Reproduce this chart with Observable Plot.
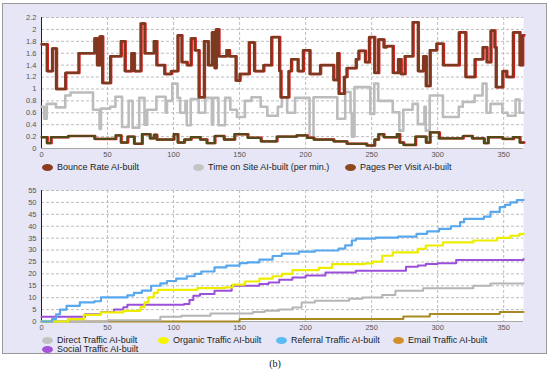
<!DOCTYPE html>
<html><head><meta charset="utf-8">
<script src="https://cdn.jsdelivr.net/npm/d3@7"></script>
<script src="https://cdn.jsdelivr.net/npm/@observablehq/plot@0.6"></script>
<style>
html,body{margin:0;padding:0;background:#fff;}
#root{position:relative;width:550px;height:371px;overflow:hidden;font-family:"Liberation Sans",Arial,sans-serif;}
#box{position:absolute;left:2px;top:3px;width:545px;height:351px;background:#e6e6f6;border:1px solid #9a9a9a;box-sizing:border-box;}
.plot{position:absolute;left:0;}
.leg{position:absolute;font-size:9px;line-height:12px;color:#222;white-space:nowrap;display:flex;align-items:center;}
.leg i{display:inline-block;width:11px;height:7px;border-radius:50%;margin-right:4px;}
#cap{position:absolute;left:0;width:550px;top:358px;text-align:center;font-family:"Liberation Serif","Times New Roman",serif;font-size:10px;color:#111;}
</style>
</head><body>
<div id="root"><div id="box"></div><div id="cap">(b)</div></div>
<script>
// ---------- Data ----------
const xTicks = [0, 50, 100, 150, 200, 250, 300, 350];
const topYTicks = [0, 0.2, 0.4, 0.6, 0.8, 1, 1.2, 1.4, 1.6, 1.8, 2, 2.2];
const botYTicks = [0, 5, 10, 15, 20, 25, 30, 35, 40, 45, 50, 55];

const topSeriesNames = ["Bounce Rate AI-built", "Time on Site AI-built (per min.)", "Pages Per Visit AI-built"];
const botSeriesNames = ["Direct Traffic AI-built", "Organic Traffic AI-built", "Referral Traffic AI-built", "Email Traffic AI-built", "Social Traffic AI-built"];

// Pages Per Visit (change points: day, value)
const ppvDays = [0,4,8,11,18,28,40,42,44,46,52,60,63,68,70,75,78,85,87,93,98,103,106,110,113,116,119,123,126,129,131,132,134,140,142,147,150,157,161,168,174,180,181,187,189,194,198,203,211,221,224,225,229,231,238,240,245,248,252,255,259,261,266,270,272,275,281,285,289,291,294,299,304,316,321,328,334,337,340,343,344,349,352,357,362,364,365];
const ppvVals = [1.75,1.3,1.68,1.0,1.27,1.6,1.85,1.4,1.88,1.1,1.55,1.8,1.3,1.6,1.3,2.1,1.6,1.8,1.4,1.25,1.3,1.9,1.45,1.4,1.85,1.65,0.86,1.8,1.4,1.95,1.35,2.0,1.55,1.65,1.55,1.14,1.25,1.78,1.3,1.4,1.87,1.3,0.86,1.3,1.5,1.3,1.65,1.25,1.4,1.15,1.6,0.92,1.2,1.35,1.5,1.64,1.45,1.87,1.27,1.83,1.7,1.72,1.27,1.5,1.25,1.55,2.12,1.3,1.55,1.05,1.65,1.76,1.4,1.95,1.2,1.5,1.7,1.45,1.98,1.7,1.03,1.3,1.2,1.95,1.4,1.9,1.9];

// Time on Site
const tosDays = [0,2,4,11,18,22,39,44,45,52,56,61,66,69,74,78,80,87,94,95,99,103,105,109,110,113,119,124,129,130,134,139,143,148,154,159,166,171,179,182,186,192,203,206,224,230,234,235,237,249,252,255,266,271,274,281,285,290,291,294,304,316,319,328,334,337,340,349,353,359,362,365];
const tosVals = [0.7,0.5,0.75,0.69,0.89,0.94,0.65,0.33,0.67,0.7,0.87,0.36,0.8,0.35,0.85,0.4,0.65,0.87,0.6,0.8,1.09,0.85,0.6,0.8,0.39,0.83,0.6,0.85,0.4,0.85,0.39,0.85,0.65,0.53,0.8,0.86,0.7,0.55,0.7,0.86,0.6,0.85,0.19,0.86,0.5,0.95,0.6,0.2,1.03,0.58,1.09,0.8,0.61,0.3,0.65,0.75,0.41,0.7,0.3,0.89,0.53,0.7,0.78,0.89,1.09,0.6,0.75,0.6,0.55,0.82,0.6,0.6];

// Bounce Rate
const brDays = [0,4,7,20,40,56,60,65,70,76,82,85,87,100,103,108,113,120,125,131,138,146,156,166,178,193,201,206,221,231,246,252,255,259,269,271,274,283,291,294,301,319,326,335,338,349,357,362,365];
const brVals = [0.19,0.09,0.19,0.21,0.16,0.22,0.1,0.2,0.08,0.24,0.17,0.23,0.15,0.24,0.1,0.15,0.19,0.15,0.09,0.21,0.15,0.24,0.18,0.12,0.2,0.22,0.18,0.15,0.12,0.08,0.05,0.15,0.24,0.19,0.24,0.1,0.06,0.2,0.1,0.27,0.17,0.21,0.17,0.09,0.19,0.16,0.19,0.1,0.1];

// Cumulative traffic
const refDays = [0,8,11,14,19,29,40,45,65,70,76,83,90,95,102,110,116,121,131,140,150,156,165,175,182,195,207,225,230,235,238,253,270,284,292,301,310,317,320,335,340,347,351,355,360,365];
const refVals = [0,1,3,5,6.6,8,8.5,10.1,11,12,13,15,16,17,18,19,20,21,22.7,23.5,24.5,24.8,26,27.5,28.5,29.3,29.8,30.6,32,34,34.8,35.2,35.6,36.8,37.8,38.9,40,41.7,43.1,44,46,48,49,50,51,51.1];

const orgDays = [0,20,32,45,62,75,78,81,85,88,118,139,145,154,165,175,182,190,210,220,245,251,258,266,285,291,304,327,345,355,362,365];
const orgVals = [0,1,2.8,3.8,4.5,6,8,10.1,12,13.3,14,14.3,15.5,16.8,18,19,20,21.6,22.5,24.1,24.4,25.1,27.6,29,30.5,31.9,33.2,34,35.1,36,36.8,36.8];

const socDays = [0,33,45,55,62,65,108,112,115,120,131,144,165,172,180,190,200,215,238,276,285,291,300,314,365];
const socVals = [2,3,4,5,6,7,7.4,9,10.8,11.5,12.9,15,15.7,16.4,17.5,18.5,19.3,20.6,21.3,23,23.5,24.1,24.5,25.8,26.2];

const dirDays = [0,50,90,106,128,160,169,180,190,197,207,233,243,258,268,289,327,340,365];
const dirVals = [0,0.5,2,2.4,3.4,4,4.5,5,5.9,8,8.7,9.5,10.1,11.1,12.9,14,15,16,16];

const emlDays = [0,150,274,294,347,365];
const emlVals = [0,1,2.1,3.1,4,4];

// ---------- helpers ----------
const rows = (days, vals) => days.map((d, i) => ({day: d, value: vals[i]}));
const fmt = d => String(+(+d).toFixed(1));
const baseStyle = {background: "transparent", fontSize: "7.5px", color: "#555", fontFamily: "Liberation Sans, Arial, sans-serif", overflow: "visible"};

function frameMarks(yTicks) {
  return [
    Plot.frame({fill: "white", stroke: "none"}),
    Plot.gridX(xTicks, {stroke: "#bdbdbd", strokeOpacity: 1, strokeDasharray: "3,2"}),
    Plot.gridY(yTicks, {stroke: "#bdbdbd", strokeOpacity: 1, strokeDasharray: "3,2"}),
    Plot.ruleY([0], {stroke: "#a8a8a8"}),
    Plot.ruleX([0], {stroke: "#222", strokeWidth: 1})
  ];
}
const step = (data, opts) => Plot.line(data, {x: "day", y: "value", curve: "step-after", ...opts});

// ---------- Top chart ----------
const topPlot = Plot.plot({
  width: 550, height: 160,
  marginLeft: 41, marginRight: 27, marginTop: 17, marginBottom: 12,
  x: {domain: [0, 365], ticks: xTicks, tickSize: 0, tickPadding: 3, label: null},
  y: {domain: [0, 2.2], ticks: topYTicks, tickSize: 0, tickPadding: 5, tickFormat: fmt, label: null},
  style: baseStyle,
  marks: [
    ...frameMarks(topYTicks),
    step(rows(tosDays, tosVals), {stroke: "#bcbcbc", strokeWidth: 2.6}),
    step(rows(brDays, brVals), {stroke: "#dd1c1c", strokeWidth: 2.4, dx: 0.9}),
    step(rows(brDays, brVals), {stroke: "#4f4a18", strokeWidth: 2.2}),
    step(rows(ppvDays, ppvVals), {stroke: "#d41e1e", strokeWidth: 2.6, dx: 0.9}),
    step(rows(ppvDays, ppvVals), {stroke: "#7a3a20", strokeWidth: 2.4})
  ]
});
topPlot.style.position = "absolute";
topPlot.style.top = "0px";
topPlot.style.left = "0px";

// ---------- Bottom chart ----------
const botPlot = Plot.plot({
  width: 550, height: 160,
  marginLeft: 41, marginRight: 27, marginTop: 14, marginBottom: 15,
  x: {domain: [0, 365], ticks: xTicks, tickSize: 0, tickPadding: 3, label: null},
  y: {domain: [0, 55], ticks: botYTicks, tickSize: 0, tickPadding: 5, label: null},
  style: baseStyle,
  marks: [
    ...frameMarks(botYTicks),
    step(rows(emlDays, emlVals), {stroke: "#a88a22", strokeWidth: 2}),
    step(rows(dirDays, dirVals), {stroke: "#b5b5b5", strokeWidth: 2}),
    step(rows(socDays, socVals), {stroke: "#9a50d8", strokeWidth: 2}),
    step(rows(orgDays, orgVals), {stroke: "#eded00", strokeWidth: 2.2}),
    step(rows(refDays, refVals), {stroke: "#58a8ee", strokeWidth: 2.2})
  ]
});
botPlot.style.position = "absolute";
botPlot.style.top = "176px";
botPlot.style.left = "0px";

const root = document.getElementById("root");
root.appendChild(topPlot);
root.appendChild(botPlot);

// ---------- Legends ----------
const topLegColors = ["#8c3c1c", "#c4c4c4", "#8a4a1e"];
const botLegColors = ["#c2c2c2", "#f5f500", "#5bbcf2", "#d28f2c", "#a452d6"];
const topLegPos = [[42, 161], [193, 161], [345, 161]];
const botLegPos = [[42, 334], [158, 334], [276, 334], [393, 334], [42, 343]];

function addLegend(names, colors, pos) {
  names.forEach((n, i) => {
    const el = document.createElement("div");
    el.className = "leg";
    el.style.left = pos[i][0] + "px";
    el.style.top = pos[i][1] + "px";
    const dot = document.createElement("i");
    dot.style.background = colors[i];
    el.appendChild(dot);
    el.appendChild(document.createTextNode(n));
    root.appendChild(el);
  });
}
addLegend(topSeriesNames, topLegColors, topLegPos);
addLegend(botSeriesNames, botLegColors, botLegPos);
</script>
</body></html>
